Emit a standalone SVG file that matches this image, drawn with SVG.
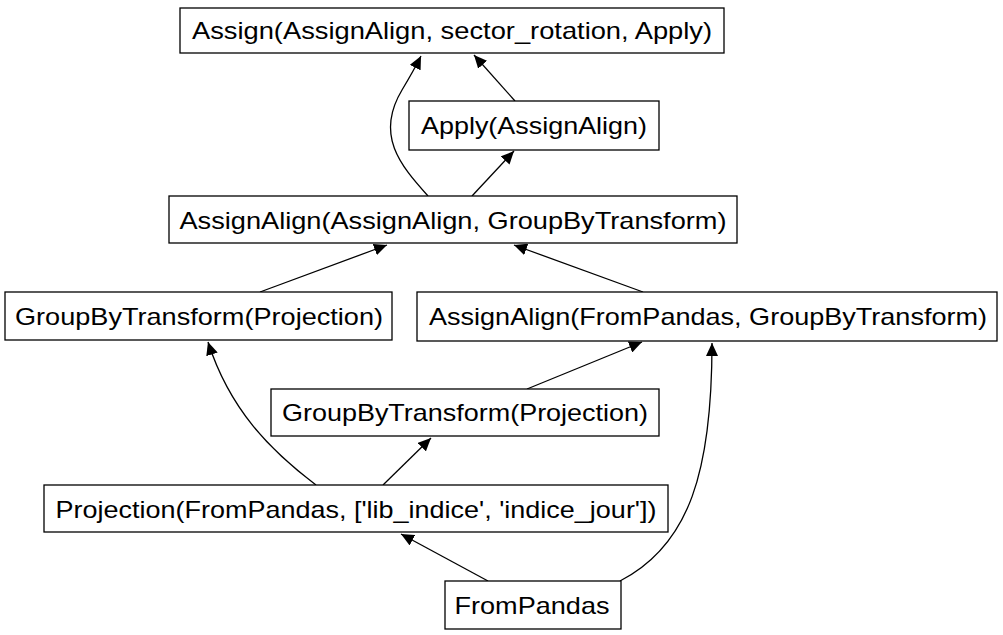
<svg xmlns="http://www.w3.org/2000/svg" width="1003" height="635" viewBox="0 0 1003 635">
<style>
.n rect{fill:#fff;stroke:#000;stroke-width:1.3}
.n text{font-family:"Liberation Sans",Arial,sans-serif;font-size:24px;fill:#000;text-anchor:middle}
.e path{fill:none;stroke:#000;stroke-width:1.3;marker-end:url(#ah)}
</style>
<defs>
<marker id="ah" markerUnits="userSpaceOnUse" markerWidth="14" markerHeight="12" refX="13" refY="6" orient="auto">
<path d="M0,0 L13,6 L0,12 Z" fill="#000"/>
</marker>
</defs>
<rect width="1003" height="635" fill="#fff"/>
<g id="edges" class="e">
<path d="M428,196 C400,165 375,135 402,90 C408,80 414,70 421,56"/>
<path d="M472,196 L514,151"/>
<path d="M515,101 L474,55"/>
<path d="M260,292 L387,245"/>
<path d="M643,292 L514,245"/>
<path d="M527,389 L642,342"/>
<path d="M316,485 C270,450 230,410 208,342"/>
<path d="M383,485 L431,438"/>
<path d="M488,581 L401,534"/>
<path d="M620,581 C690,545 712,470 712,343"/>
</g>
<g id="n1" class="n"><rect x="180" y="8" width="544" height="45"/><text x="452" y="39" textLength="520" lengthAdjust="spacingAndGlyphs">Assign(AssignAlign, sector_rotation, Apply)</text></g>
<g id="n2" class="n"><rect x="409" y="101" width="250" height="49"/><text x="534" y="134" textLength="226" lengthAdjust="spacingAndGlyphs">Apply(AssignAlign)</text></g>
<g id="n3" class="n"><rect x="169" y="196" width="568" height="47"/><text x="453" y="229" textLength="547" lengthAdjust="spacingAndGlyphs">AssignAlign(AssignAlign, GroupByTransform)</text></g>
<g id="n4" class="n"><rect x="5" y="292" width="387" height="48"/><text x="199" y="325" textLength="368" lengthAdjust="spacingAndGlyphs">GroupByTransform(Projection)</text></g>
<g id="n5" class="n"><rect x="417" y="292" width="580" height="49"/><text x="708" y="325" textLength="558" lengthAdjust="spacingAndGlyphs">AssignAlign(FromPandas, GroupByTransform)</text></g>
<g id="n6" class="n"><rect x="271" y="389" width="388" height="47"/><text x="465" y="421" textLength="366" lengthAdjust="spacingAndGlyphs">GroupByTransform(Projection)</text></g>
<g id="n7" class="n"><rect x="44" y="485" width="624" height="47"/><text x="356" y="518" textLength="601" lengthAdjust="spacingAndGlyphs">Projection(FromPandas, ['lib_indice', 'indice_jour'])</text></g>
<g id="n8" class="n"><rect x="445" y="581" width="176" height="48"/><text x="532" y="614" textLength="155" lengthAdjust="spacingAndGlyphs">FromPandas</text></g>
</svg>
